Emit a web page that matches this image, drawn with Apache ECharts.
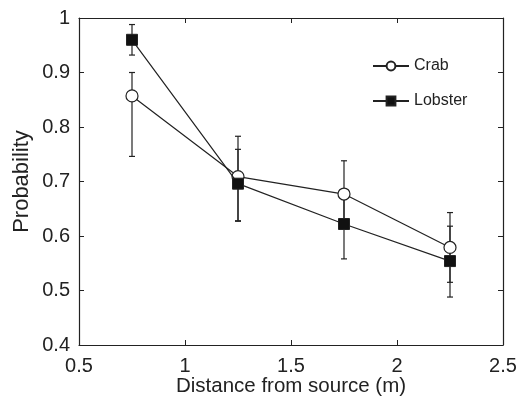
<!DOCTYPE html>
<html>
<head>
<meta charset="utf-8">
<script src="https://cdn.jsdelivr.net/npm/echarts@6/dist/echarts.min.js"></script>
<style>
  html, body { margin: 0; padding: 0; background: #fff; }
  #chart { width: 519px; height: 396px; }
</style>
</head>
<body>
<div id="chart"></div>
<script>
// distance from source (m)
const distances = [0.75, 1.25, 1.75, 2.25]
// mean probability per animal
const crab = [0.857, 0.709, 0.677, 0.579]
const lobster = [0.96, 0.696, 0.622, 0.554]
// error bar ends
const crabLow = [0.746, 0.628, 0.616, 0.515]
const crabHigh = [0.90, 0.783, 0.738, 0.643]
const lobsterLow = [0.932, 0.627, 0.558, 0.488]
const lobsterHigh = [0.988, 0.759, 0.684, 0.618]

const FONT = '"Liberation Sans", Arial, sans-serif'
const INK = '#222'

const pairs = (ys) => distances.map((x, i) => [x, ys[i]])
const bars = (lo, hi) => distances.map((x, i) => [x, lo[i], hi[i]])

// vertical error bar with small caps
const renderErrorBar = (params, api) => {
  const x = api.value(0)
  const low = api.coord([x, api.value(1)])
  const high = api.coord([x, api.value(2)])
  const half = 3
  const style = { stroke: INK, lineWidth: 1.2 }
  return {
    type: 'group',
    children: [
      { type: 'line', shape: { x1: low[0], y1: low[1], x2: high[0], y2: high[1] }, style },
      { type: 'line', shape: { x1: low[0] - half, y1: low[1], x2: low[0] + half, y2: low[1] }, style },
      { type: 'line', shape: { x1: high[0] - half, y1: high[1], x2: high[0] + half, y2: high[1] }, style }
    ]
  }
}

const chart = echarts.init(document.getElementById('chart'))

const axisLine = { show: true, lineStyle: { color: INK, width: 1.2 } }
const axisTick = { show: true, inside: true, length: 5, lineStyle: { color: INK, width: 1 } }
const axisLabel = { color: INK, fontFamily: FONT, fontSize: 20 }

chart.setOption({
  animation: false,
  textStyle: { fontFamily: FONT },
  grid: { left: 79, right: 16, top: 18, bottom: 51, containLabel: false, outerBoundsMode: 'none' },
  legend: {
    orient: 'vertical',
    left: 367,
    top: 53,
    itemWidth: 36,
    itemHeight: 11,
    itemGap: 19,
    textStyle: { color: INK, fontFamily: FONT, fontSize: 16 },
    data: ['Crab', 'Lobster']
  },
  xAxis: [
    {
      type: 'value', min: 0.5, max: 2.5, interval: 0.5,
      name: 'Distance from source (m)', nameLocation: 'middle', nameGap: 31,
      nameMoveOverlap: false,
      nameTextStyle: { color: INK, fontFamily: FONT, fontSize: 20.5 },
      axisLine, axisTick,
      axisLabel: { ...axisLabel, margin: 11 },
      splitLine: { show: false }
    },
    {
      type: 'value', position: 'top', min: 0.5, max: 2.5, interval: 0.5,
      axisLine, axisTick, axisLabel: { show: false }, splitLine: { show: false }
    }
  ],
  yAxis: [
    {
      type: 'value', min: 0.4, max: 1, interval: 0.1,
      name: 'Probability', nameLocation: 'middle', nameGap: 46,
      nameMoveOverlap: false,
      nameTextStyle: { color: INK, fontFamily: FONT, fontSize: 22 },
      axisLine, axisTick,
      axisLabel: { ...axisLabel, margin: 9 },
      splitLine: { show: false }
    },
    {
      type: 'value', position: 'right', min: 0.4, max: 1, interval: 0.1,
      axisLine, axisTick, axisLabel: { show: false }, splitLine: { show: false }
    }
  ],
  series: [
    {
      name: 'crabErr', type: 'custom', renderItem: renderErrorBar,
      data: bars(crabLow, crabHigh), encode: { x: 0, y: [1, 2] }, z: 1, silent: true
    },
    {
      name: 'lobsterErr', type: 'custom', renderItem: renderErrorBar,
      data: bars(lobsterLow, lobsterHigh), encode: { x: 0, y: [1, 2] }, z: 1, silent: true
    },
    {
      name: 'Crab', type: 'line', data: pairs(crab),
      symbol: 'circle', symbolSize: 12,
      lineStyle: { color: INK, width: 1.2 },
      itemStyle: { color: '#fff', borderColor: INK, borderWidth: 1.2 },
      z: 3
    },
    {
      name: 'Lobster', type: 'line', data: pairs(lobster),
      symbol: 'rect', symbolSize: 11,
      lineStyle: { color: INK, width: 1.2 },
      itemStyle: { color: '#111', borderColor: INK, borderWidth: 1 },
      z: 4
    }
  ]
})
</script>
</body>
</html>
